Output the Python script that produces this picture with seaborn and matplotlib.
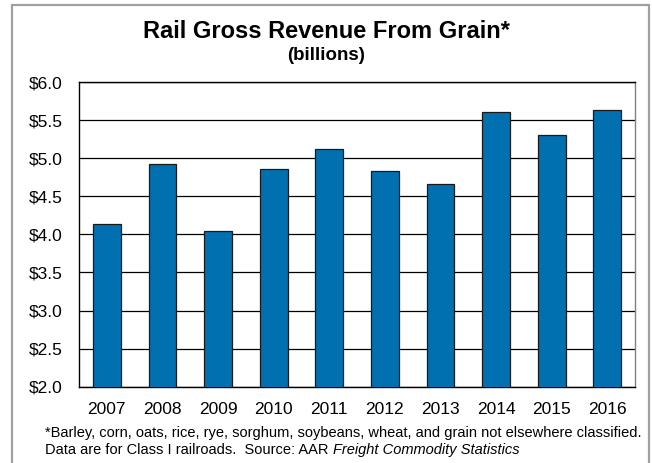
import matplotlib
matplotlib.use("Agg")
import matplotlib.pyplot as plt
import matplotlib.patches as mpatches
import seaborn as sns
import pandas as pd

# Rail gross revenue from grain, billions of dollars
years = ["2007", "2008", "2009", "2010", "2011", "2012", "2013", "2014", "2015", "2016"]
revenue = [4.14, 4.93, 4.05, 4.86, 5.12, 4.83, 4.66, 5.60, 5.30, 5.63]
y_ticks = [2.0, 2.5, 3.0, 3.5, 4.0, 4.5, 5.0, 5.5, 6.0]
y_tick_labels = ["$2.0", "$2.5", "$3.0", "$3.5", "$4.0", "$4.5", "$5.0", "$5.5", "$6.0"]

sns.set_style("white")
plt.rcParams["font.family"] = ["Liberation Sans", "DejaVu Sans"]
plt.rcParams["text.color"] = "black"
plt.rcParams["xtick.color"] = "black"
plt.rcParams["ytick.color"] = "black"

df = pd.DataFrame({"year": years, "revenue": revenue})

fig = plt.figure(figsize=(6.52, 4.63), dpi=100)
ax = fig.add_axes([79 / 652, 1 - 386.7 / 463, (635 - 79) / 652, (386.7 - 82) / 463])

sns.barplot(data=df, x="year", y="revenue", color="#0070B0", saturation=1,
            width=0.5, edgecolor="#1a1a1a", linewidth=0.9, ax=ax, zorder=3)

ax.set_ylim(2.0, 6.0)
ax.set_yticks(y_ticks)
ax.set_yticklabels(y_tick_labels)
ax.set_xlabel("")
ax.set_ylabel("")
ax.yaxis.grid(True, color="black", linewidth=0.9, zorder=0)
ax.set_axisbelow(True)
ax.tick_params(axis="y", length=0, pad=12, labelsize=12.5, labelcolor="black")
ax.tick_params(axis="x", length=0, pad=11, labelsize=12.5, labelcolor="black")

for side in ["top", "left", "bottom"]:
    ax.spines[side].set_visible(True)
    ax.spines[side].set_color("black")
    ax.spines[side].set_linewidth(1.0)
ax.spines["right"].set_visible(True)
ax.spines["right"].set_color("#808080")
ax.spines["right"].set_linewidth(1.0)

# Titles
fig.text(0.5, 1 - 32 / 463, "Rail Gross Revenue From Grain*", ha="center", va="center",
         fontsize=17, fontweight="bold", color="black")
fig.text(0.5, 1 - 55 / 463, "(billions)", ha="center", va="center",
         fontsize=13.5, fontweight="bold", color="black")

# Footnotes
fig.text(45 / 652, 1 - 433 / 463,
         "*Barley, corn, oats, rice, rye, sorghum, soybeans, wheat, and grain not elsewhere classified.",
         ha="left", va="center", fontsize=10.5, color="black")
src = fig.text(45 / 652, 1 - 450 / 463, "Data are for Class I railroads.  Source: AAR ",
               ha="left", va="center", fontsize=10.5, color="black")
ax.annotate("Freight Commodity Statistics", xy=(1, 0), xycoords=src,
            ha="left", va="bottom", fontsize=10.5, style="italic", color="black",
            annotation_clip=False)

# Outer frame around the whole graphic
frame = mpatches.Rectangle((12 / 652, -0.02), (649 - 12) / 652, 1.02 - 5 / 463,
                           transform=fig.transFigure, fill=False,
                           edgecolor="#a0a0a0", linewidth=1.6, clip_on=False)
fig.patches.append(frame)

fig.savefig("out.png", dpi=100, facecolor="white")
